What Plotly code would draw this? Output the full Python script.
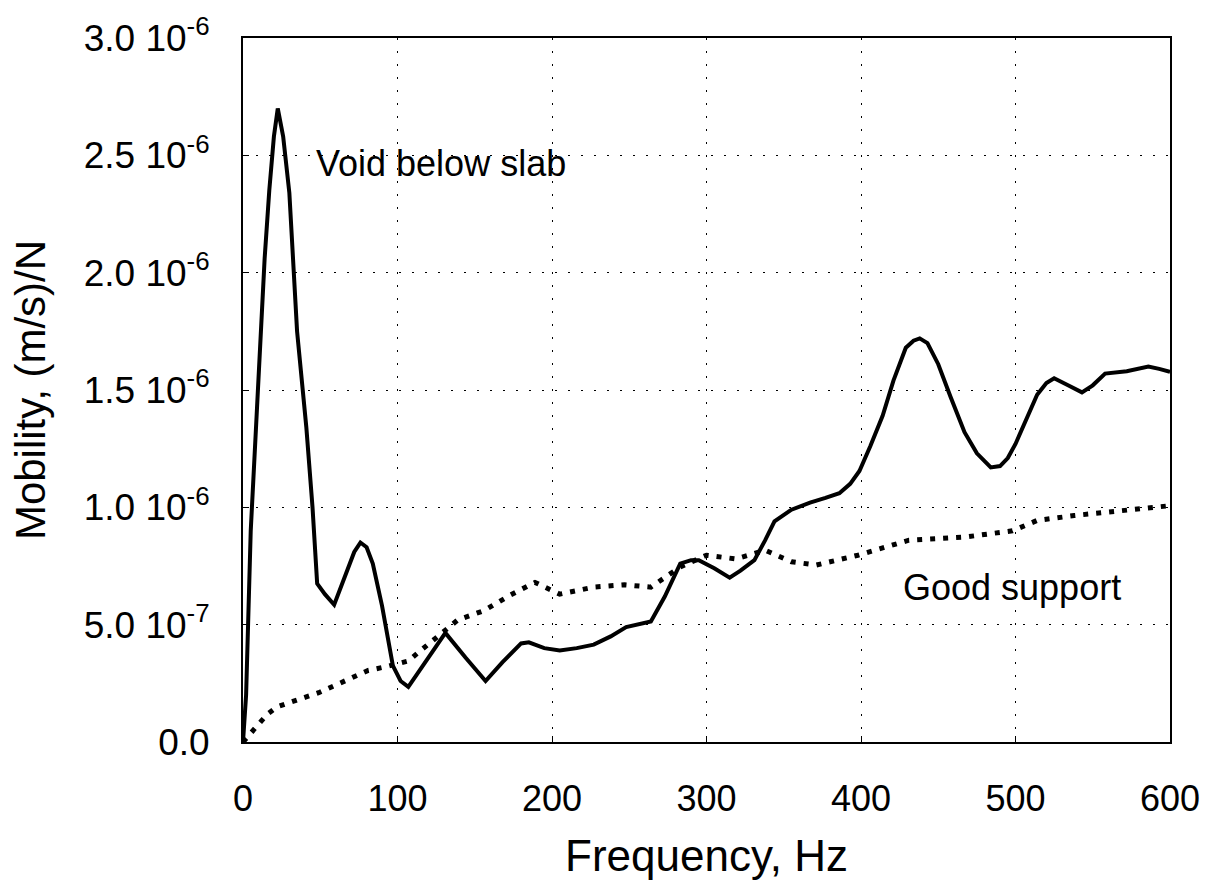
import plotly.graph_objects as go

# Void below slab (solid)
void_f = [0, 2, 5, 8, 10, 12, 14, 17, 20, 22.5, 26, 30, 35, 41, 45, 48, 53, 59, 66, 72, 76, 80, 84,
          90, 97, 102, 107, 119, 131, 144, 157, 168, 180, 185, 195, 205, 216, 227, 238, 248, 256, 264,
          273, 283, 290, 295, 305, 315, 322, 331, 338, 344, 355, 367, 377, 386, 393, 399, 406, 414,
          421, 429, 434, 438, 443, 450, 458, 467, 475, 484, 490, 495, 500, 507, 514, 520, 525, 534,
          543, 550, 558, 572, 586, 593, 600]
void_v = [0.0, 0.2, 0.9, 1.3, 1.5, 1.75, 2.06, 2.35, 2.58, 2.70, 2.58, 2.34, 1.75, 1.34, 1.0, 0.675,
          0.63, 0.585, 0.70, 0.81, 0.85, 0.83, 0.76, 0.58, 0.325, 0.26, 0.235, 0.35, 0.465, 0.36,
          0.26, 0.34, 0.42, 0.425, 0.40, 0.39, 0.40, 0.415, 0.45, 0.49, 0.50, 0.514, 0.62, 0.76,
          0.775, 0.775, 0.74, 0.70, 0.73, 0.775, 0.86, 0.94, 0.99, 1.02, 1.04, 1.06, 1.10, 1.155,
          1.26, 1.39, 1.54, 1.68, 1.71, 1.72, 1.70, 1.61, 1.47, 1.32, 1.23, 1.17, 1.176, 1.21, 1.27,
          1.38, 1.48, 1.53, 1.55, 1.52, 1.49, 1.52, 1.57, 1.58, 1.60, 1.59, 1.577]

# Good support (dotted)
good_f = [0, 8.5, 16, 22, 28, 40, 49, 64, 81, 92, 107, 115, 124, 139, 156, 173, 189, 200, 205, 227,
          247, 264, 283, 300, 319, 338, 355, 371, 398, 431, 467, 498, 514, 538, 571, 600]
good_v = [0.0, 0.06, 0.12, 0.15, 0.165, 0.19, 0.21, 0.255, 0.305, 0.32, 0.345, 0.39, 0.44, 0.52,
          0.56, 0.626, 0.68, 0.647, 0.63, 0.66, 0.67, 0.66, 0.746, 0.796, 0.78, 0.817, 0.768, 0.754,
          0.796, 0.86, 0.873, 0.90, 0.944, 0.965, 0.986, 1.007]

x_ticks = [0, 100, 200, 300, 400, 500, 600]
y_tickvals = [0.0, 0.5, 1.0, 1.5, 2.0, 2.5, 3.0]
y_ticktext = ["0.0", "5.0 10<sup>-7</sup>", "1.0 10<sup>-6</sup>", "1.5 10<sup>-6</sup>",
              "2.0 10<sup>-6</sup>", "2.5 10<sup>-6</sup>", "3.0 10<sup>-6</sup>"]

scale = 1e-6
FONT = "Liberation Sans, Arial, sans-serif"

fig = go.Figure()
fig.add_trace(go.Scatter(x=good_f, y=[v * scale for v in good_v], mode="lines",
                         line=dict(color="black", width=5, dash="5px,8px"),
                         showlegend=False))
fig.add_trace(go.Scatter(x=void_f, y=[v * scale for v in void_v], mode="lines",
                         line=dict(color="black", width=4),
                         showlegend=False))

fig.add_annotation(x=46, y=2.465e-6, text="Void below slab", showarrow=False,
                   xanchor="left", yanchor="middle", font=dict(size=36, color="black", family=FONT))
fig.add_annotation(x=426, y=0.66e-6, text="Good support", showarrow=False,
                   xanchor="left", yanchor="middle", font=dict(size=36, color="black", family=FONT))

fig.update_layout(
    width=1212, height=884,
    margin=dict(l=243, r=37, t=33, b=139),
    paper_bgcolor="white", plot_bgcolor="white",
    font=dict(family=FONT, color="black", size=36),
)
fig.update_xaxes(
    range=[0, 600], tickvals=x_ticks, ticktext=[str(t) for t in x_ticks],
    showline=True, mirror=True, linecolor="black", linewidth=2,
    showgrid=True, gridcolor="black", gridwidth=1, griddash="2px,11px",
    ticks="inside", ticklen=6, tickcolor="black", zeroline=False,
    tickfont=dict(size=36), ticklabelstandoff=24,
    title=dict(text="Frequency, Hz", font=dict(size=44), standoff=22),
)
fig.update_yaxes(
    range=[0, 3.0e-6], tickvals=[v * scale for v in y_tickvals], ticktext=y_ticktext,
    showline=True, mirror=True, linecolor="black", linewidth=2,
    showgrid=True, gridcolor="black", gridwidth=1, griddash="2px,11px",
    ticks="inside", ticklen=6, tickcolor="black", zeroline=False,
    tickfont=dict(size=37), ticklabelstandoff=24,
    title=dict(text="Mobility, (m/s)/N", font=dict(size=42), standoff=25),
)

fig.write_html("out.html")
